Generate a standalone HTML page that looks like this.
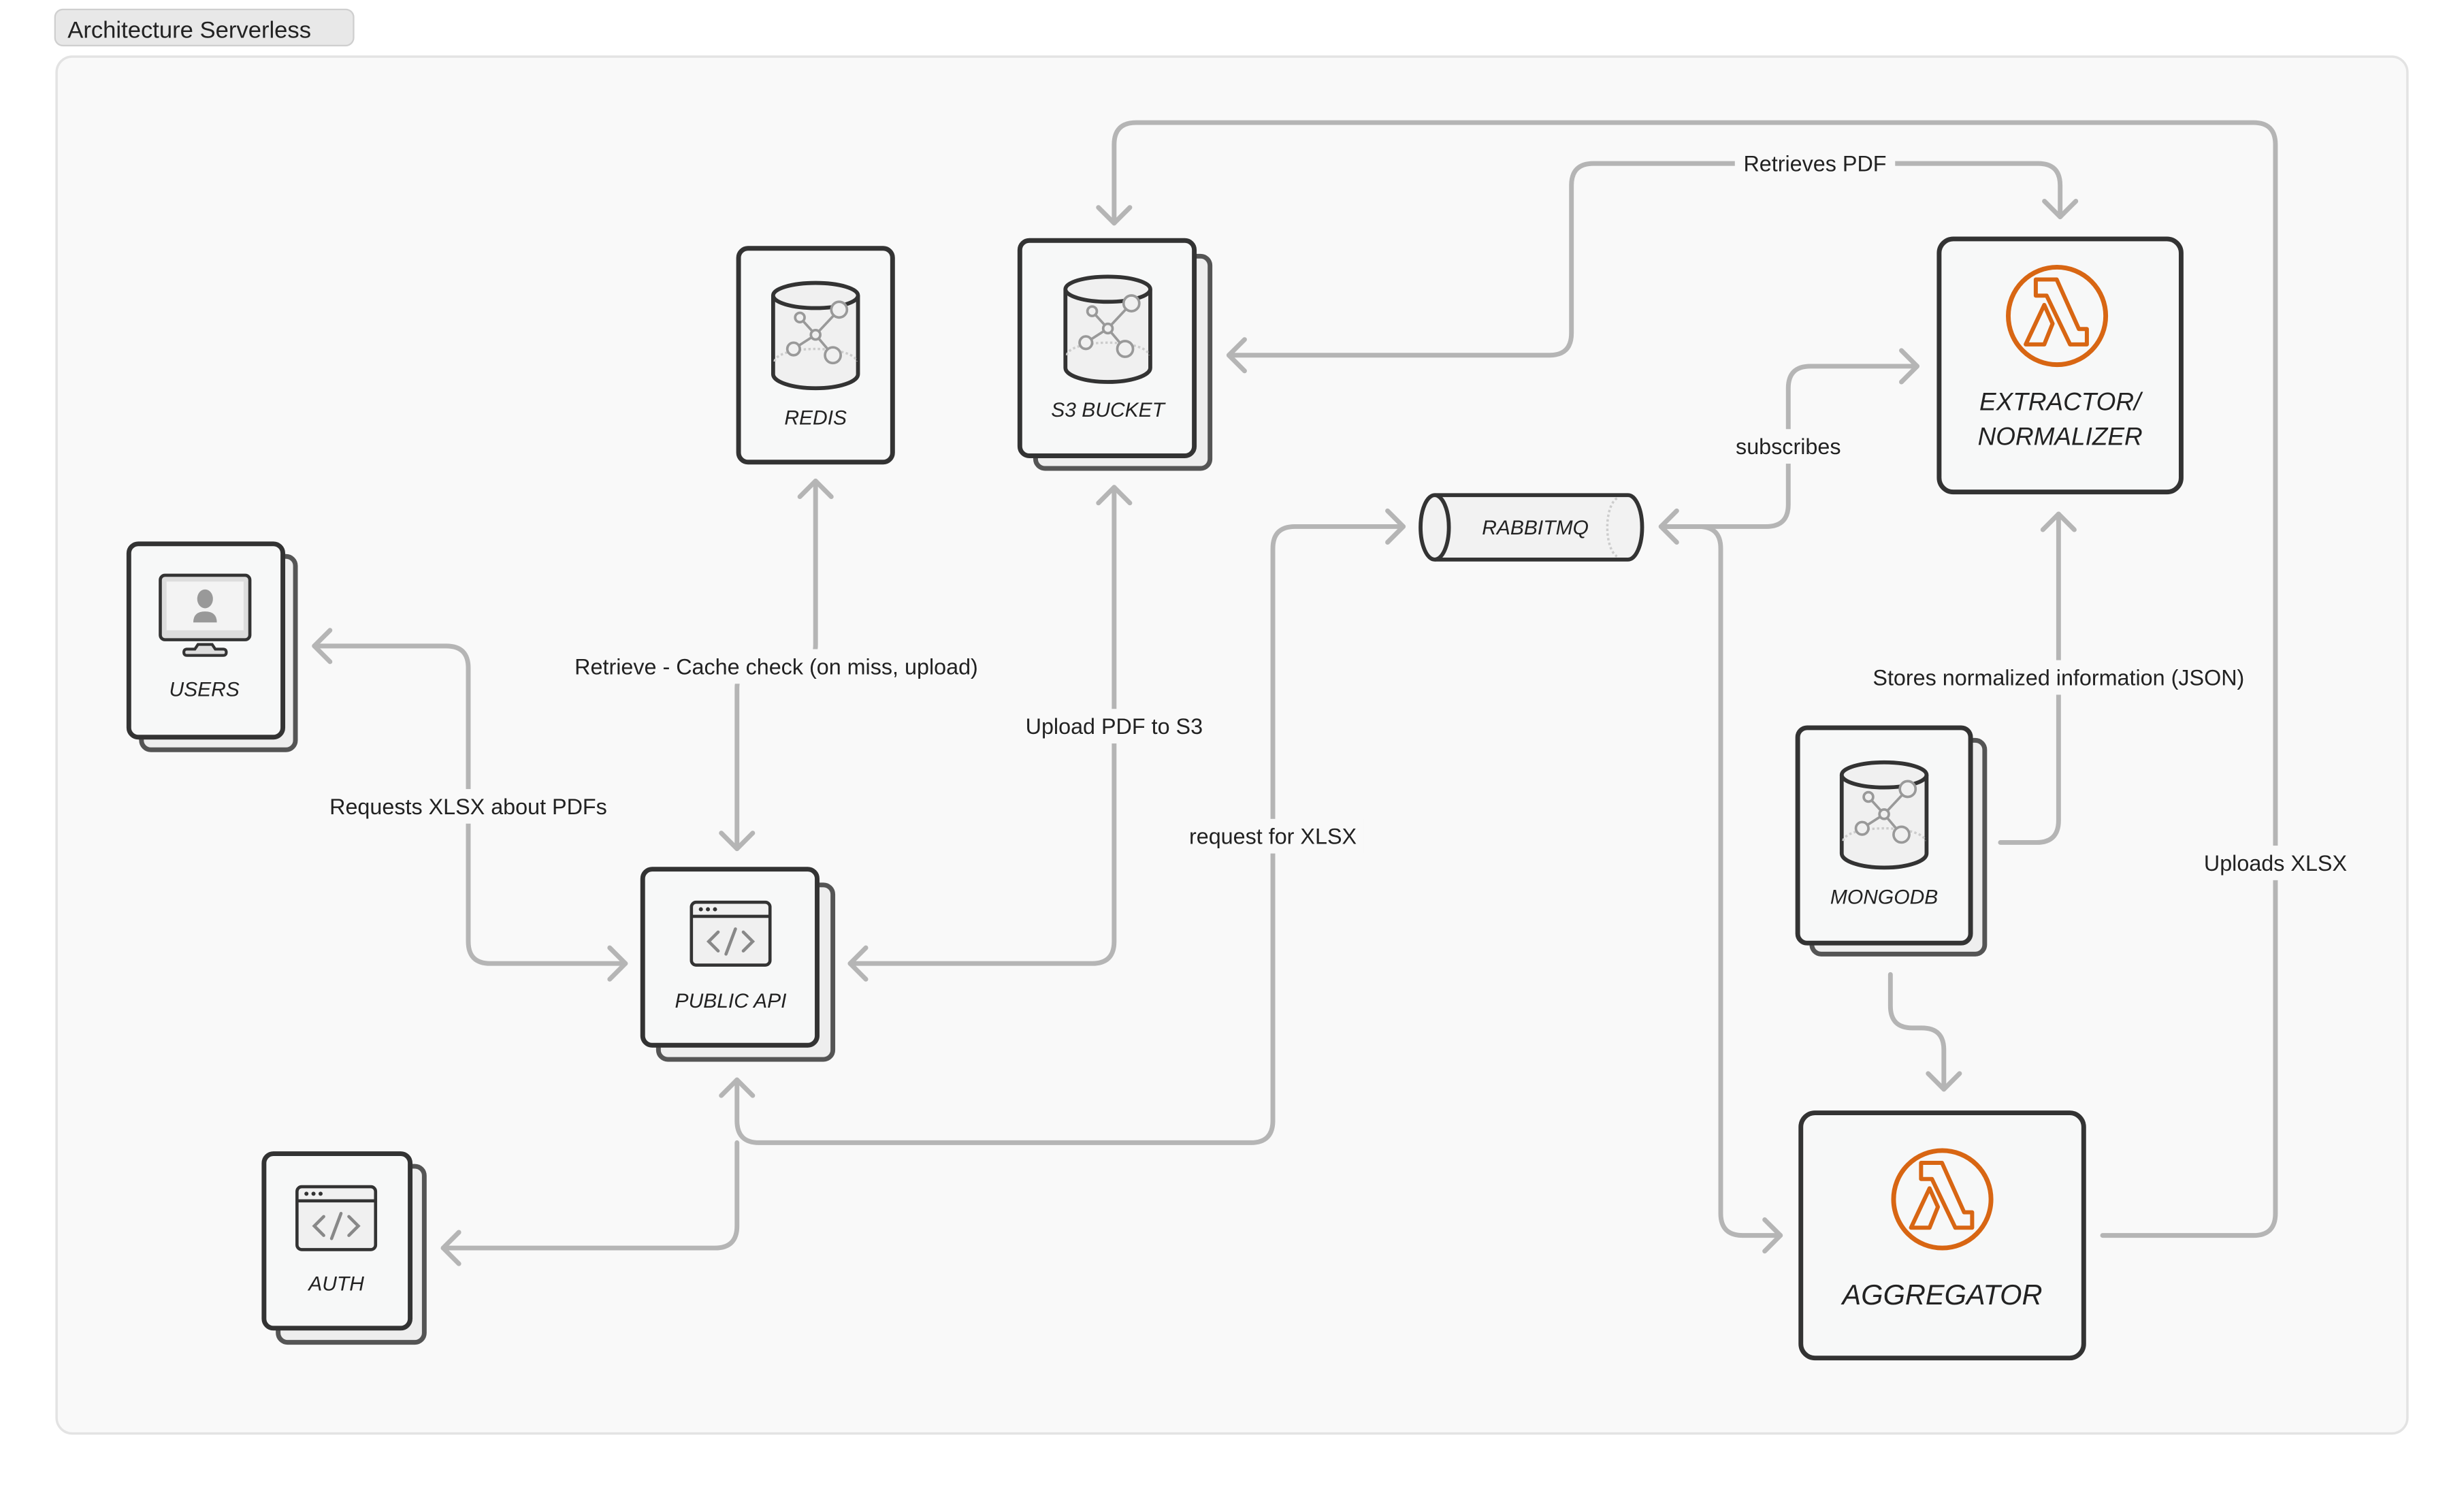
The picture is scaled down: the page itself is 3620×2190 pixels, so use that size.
<!DOCTYPE html>
<html><head><meta charset="utf-8"><style>
html,body{margin:0;padding:0;background:#fff;}
svg{display:block;}
text{font-family:"Liberation Sans",sans-serif;}
</style></head><body>
<svg width="3620" height="2190" viewBox="0 0 1568 948.6" xmlns="http://www.w3.org/2000/svg">
<defs>
<g id="db">
  <path d="M-27,-22 V28 A27,9 0 0 0 27,28 V-22" fill="#f0f0f0" stroke="#333" stroke-width="2.5"/>
  <ellipse cx="0" cy="-22" rx="27" ry="8" fill="#f0f0f0" stroke="#333" stroke-width="2.5"/>
  <path d="M-26,20 A26,8 0 0 1 26,20" fill="none" stroke="#ccc" stroke-width="1.5" stroke-dasharray="1.5,1.5"/>
  <g stroke="#999" stroke-width="1.6" fill="#f0f0f0">
    <line x1="0" y1="3" x2="-10" y2="-8"/><line x1="0" y1="3" x2="15" y2="-13"/>
    <line x1="0" y1="3" x2="-14" y2="12"/><line x1="0" y1="3" x2="11" y2="16"/>
    <circle cx="0" cy="3" r="3"/><circle cx="-10" cy="-8" r="3"/><circle cx="15" cy="-13" r="5"/>
    <circle cx="-14" cy="12" r="4"/><circle cx="11" cy="16" r="5"/>
  </g>
</g>
<g id="code">
  <rect x="-25" y="-20" width="50" height="40" rx="3" fill="#f0f0f0" stroke="#333" stroke-width="2"/>
  <line x1="-25" y1="-11" x2="25" y2="-11" stroke="#333" stroke-width="2"/>
  <circle cx="-19" cy="-15.5" r="1.3" fill="#333"/><circle cx="-14.5" cy="-15.5" r="1.3" fill="#333"/><circle cx="-10" cy="-15.5" r="1.3" fill="#333"/>
  <path d="M-8,-1 L-14,5 L-8,11 M8,-1 L14,5 L8,11 M3,-3 L-3,13" fill="none" stroke="#888" stroke-width="2" stroke-linecap="round"/>
</g>
<g id="lambda">
  <circle cx="0" cy="0" r="31" fill="none" stroke="#d86613" stroke-width="3"/>
  <path d="M-13.5,-23.2 L-0.2,-23.2 L13.9,8.3 L19,8.3 L19,18.1 L8.3,18.1 L-6.6,-12.9 L-13.5,-12.9 Z M-8.1,-7 L-2.8,4.9 L-8.1,18.1 L-19.9,18.1 Z" fill="none" stroke="#d86613" stroke-width="2.6" stroke-linejoin="round"/>
</g>
</defs>

<rect x="35" y="6" width="190" height="23" rx="5" fill="#e8e8e8" stroke="#cfcfcf" stroke-width="1"/>
<text x="43" y="24" font-size="15" fill="#222">Architecture Serverless</text>
<rect x="36" y="36" width="1496" height="876" rx="10" fill="#f9f9f9" stroke="#e3e3e3" stroke-width="1.5"/>

<g fill="none" stroke="#b5b5b5" stroke-width="3" stroke-linecap="round" stroke-linejoin="round">
<path d="M200,411 H284 Q298,411 298,425 V599 Q298,613 312,613 H398"/>
<path d="M519,306 V410 Q519,424 505,424 H483 Q469,424 469,438 V540"/>
<path d="M709,310 V599 Q709,613 695,613 H541"/>
<path d="M469,687 V713 Q469,727 483,727 H796 Q810,727 810,713 V349 Q810,335 824,335 H893"/>
<path d="M469,727 V780 Q469,794 455,794 H282"/>
<path d="M709,142 V92 Q709,78 723,78 H1434 Q1448,78 1448,92 V772 Q1448,786 1434,786 H1338"/>
<path d="M782,226 H986 Q1000,226 1000,212 V118 Q1000,104 1014,104 H1297 Q1311,104 1311,118 V138"/>
<path d="M1057,335 H1124 Q1138,335 1138,321 V247 Q1138,233 1152,233 H1220"/>
<path d="M1057,335 H1081 Q1095,335 1095,349 V772 Q1095,786 1109,786 H1133"/>
<path d="M1273,536 H1296 Q1310,536 1310,522 V327"/>
<path d="M1203,620 V640 Q1203,654 1217,654 H1223 Q1237,654 1237,668 V693"/>
<polyline points="210,401 200,411 210,421"/>
<polyline points="388,603 398,613 388,623"/>
<polyline points="509,316 519,306 529,316"/>
<polyline points="459,530 469,540 479,530"/>
<polyline points="699,320 709,310 719,320"/>
<polyline points="551,603 541,613 551,623"/>
<polyline points="459,697 469,687 479,697"/>
<polyline points="883,325 893,335 883,345"/>
<polyline points="292,784 282,794 292,804"/>
<polyline points="699,132 709,142 719,132"/>
<polyline points="792,216 782,226 792,236"/>
<polyline points="1301,128 1311,138 1321,128"/>
<polyline points="1067,325 1057,335 1067,345"/>
<polyline points="1210,223 1220,233 1210,243"/>
<polyline points="1123,776 1133,786 1123,796"/>
<polyline points="1300,337 1310,327 1320,337"/>
<polyline points="1227,683 1237,693 1247,683"/>
</g>

<g fill="#f9f9f9">
<rect x="205" y="502" width="186" height="22"/>
<rect x="356" y="413" width="276" height="22"/>
<rect x="648" y="451" width="122" height="22"/>
<rect x="752" y="521" width="116" height="22"/>
<rect x="1104" y="93" width="102" height="22"/>
<rect x="1100" y="273" width="78" height="22"/>
<rect x="1183" y="420" width="254" height="22"/>
<rect x="1398" y="538" width="100" height="22"/>
</g>
<g font-size="14" fill="#222" text-anchor="middle">
<text x="298" y="518">Requests XLSX about PDFs</text>
<text x="494" y="429">Retrieve - Cache check (on miss, upload)</text>
<text x="709" y="467">Upload PDF to S3</text>
<text x="810" y="537">request for XLSX</text>
<text x="1155" y="109">Retrieves PDF</text>
<text x="1138" y="289">subscribes</text>
<text x="1310" y="436">Stores normalized information (JSON)</text>
<text x="1448" y="554">Uploads XLSX</text>
</g>

<g stroke-width="3">
<rect x="470" y="158" width="98" height="136" rx="6" fill="#f7f8f8" stroke="#333"/>
<rect x="659" y="163" width="111" height="135" rx="6" fill="#eeeeee" stroke="#555"/>
<rect x="649" y="153" width="111" height="137" rx="6" fill="#f7f8f8" stroke="#333"/>
<rect x="90" y="354" width="98" height="123" rx="6" fill="#eeeeee" stroke="#555"/>
<rect x="82" y="346" width="98" height="123" rx="6" fill="#f7f8f8" stroke="#333"/>
<rect x="419" y="563" width="111" height="111" rx="6" fill="#eeeeee" stroke="#555"/>
<rect x="409" y="553" width="111" height="112" rx="6" fill="#f7f8f8" stroke="#333"/>
<rect x="177" y="742" width="93" height="112" rx="6" fill="#eeeeee" stroke="#555"/>
<rect x="168" y="734" width="93" height="111" rx="6" fill="#f7f8f8" stroke="#333"/>
<rect x="1234" y="152" width="154" height="161" rx="9" fill="#f7f8f8" stroke="#333"/>
<rect x="1153" y="471" width="110" height="136" rx="6" fill="#eeeeee" stroke="#555"/>
<rect x="1144" y="463" width="110" height="137" rx="6" fill="#f7f8f8" stroke="#333"/>
<rect x="1146" y="708" width="180" height="156" rx="9" fill="#f7f8f8" stroke="#333"/>
</g>

<path d="M913,315 H1036 A9,20.5 0 0 1 1036,356 H913" fill="#f2f2f2" stroke="#333" stroke-width="2.5"/>
<ellipse cx="913" cy="335.5" rx="9" ry="20.5" fill="#f2f2f2" stroke="#333" stroke-width="2.5"/>
<path d="M1029,317 A8,19 0 0 0 1029,354" fill="none" stroke="#ccc" stroke-width="1.5" stroke-dasharray="1.5,1.5"/>

<use href="#db" x="519" y="210"/>
<use href="#db" x="705" y="206"/>
<use href="#db" x="1199" y="515"/>
<use href="#code" x="465" y="594"/>
<use href="#code" x="214" y="775"/>
<use href="#lambda" x="1309" y="201"/>
<use href="#lambda" x="1236" y="763"/>

<rect x="102" y="366" width="57" height="41" rx="3" fill="#ddd" stroke="#333" stroke-width="2"/>
<rect x="106" y="370" width="49" height="31" fill="#f3f3f3"/>
<path d="M126,410 H135 L137,413 H142 Q144,413 144,415 Q144,417 142,417 H119 Q117,417 117,415 Q117,413 119,413 H124 Z" fill="#ddd" stroke="#333" stroke-width="1.8"/>
<ellipse cx="130.5" cy="381" rx="5" ry="6" fill="#999"/>
<path d="M123,396 Q123,389 130.5,389 Q138,389 138,396 Z" fill="#999"/>

<g font-size="13" font-style="italic" fill="#222" text-anchor="middle">
<text x="519" y="270">REDIS</text>
<text x="705" y="265">S3 BUCKET</text>
<text x="130" y="443">USERS</text>
<text x="465" y="641">PUBLIC API</text>
<text x="214" y="821">AUTH</text>
<text x="977" y="340">RABBITMQ</text>
<text x="1199" y="575">MONGODB</text>
</g>
<g font-size="16" font-style="italic" fill="#222" text-anchor="middle">
<text x="1311" y="261">EXTRACTOR/</text>
<text x="1311" y="283">NORMALIZER</text>
<text x="1236" y="830" font-size="18">AGGREGATOR</text>
</g>
</svg>
</body></html>
